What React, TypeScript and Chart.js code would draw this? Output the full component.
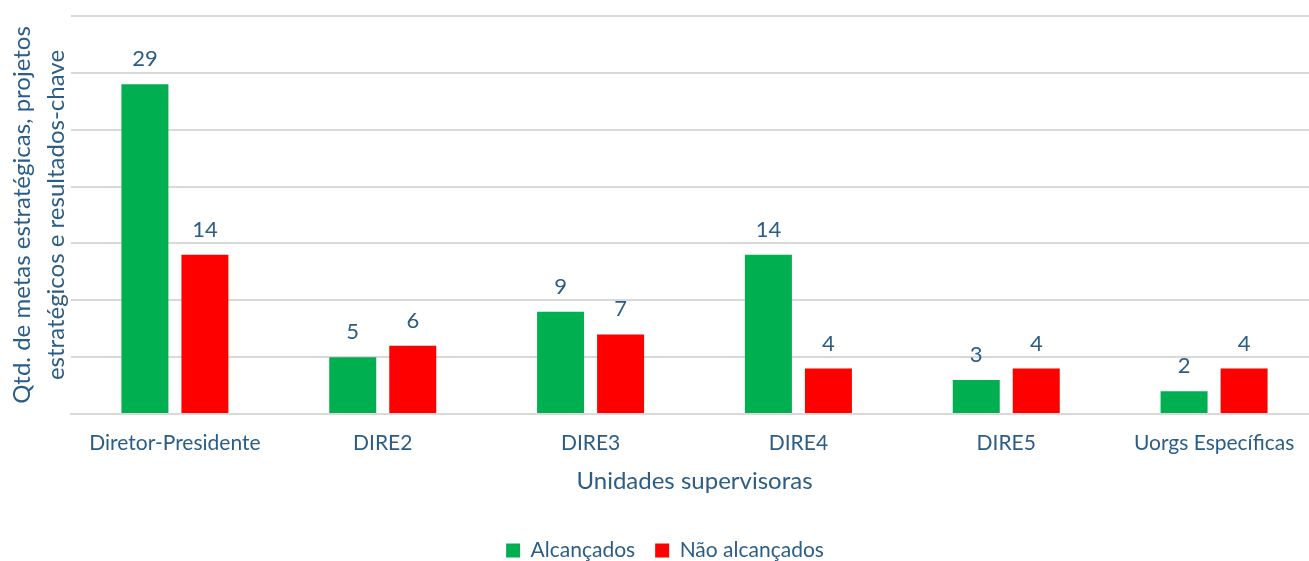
import React, { useEffect, useRef } from "react";
import { Chart, registerables } from "chart.js";

Chart.register(...registerables);

const categories = ["Diretor-Presidente", "DIRE2", "DIRE3", "DIRE4", "DIRE5", "Uorgs Específicas"];
const alcancados = [29, 5, 9, 14, 3, 2];
const naoAlcancados = [14, 6, 7, 4, 4, 4];
const seriesNames = ["Alcançados", "Não alcançados"];
const yTitleLines = ["Qtd. de metas estratégicas, projetos", "estratégicos e resultados-chave"];
const xTitle = "Unidades supervisoras";

const TEXT = "#2B5D87";
const FONT = "Lato, 'Open Sans', sans-serif";

const dataLabels = {
  id: "dataLabels",
  afterDatasetsDraw(chart: any) {
    const ctx = chart.ctx;
    ctx.save();
    ctx.font = `22px ${FONT}`;
    ctx.fillStyle = TEXT;
    ctx.textAlign = "center";
    ctx.textBaseline = "middle";
    chart.data.datasets.forEach((ds: any, i: number) => {
      const meta = chart.getDatasetMeta(i);
      meta.data.forEach((bar: any, j: number) => {
        ctx.fillText(String(ds.data[j]), bar.x, bar.y - 25);
      });
    });
    ctx.restore();
  },
};

const yTitle = {
  id: "yTitle",
  afterDraw(chart: any) {
    const ctx = chart.ctx;
    const area = chart.chartArea;
    const cy = (area.top + area.bottom) / 2;
    ctx.save();
    ctx.font = `24px ${FONT}`;
    ctx.fillStyle = TEXT;
    ctx.textAlign = "center";
    ctx.textBaseline = "middle";
    const xs = [22, 56];
    yTitleLines.forEach((line, i) => {
      ctx.save();
      ctx.translate(xs[i], cy);
      ctx.rotate(-Math.PI / 2);
      ctx.fillText(line, 0, 0);
      ctx.restore();
    });
    ctx.restore();
  },
};

export default function App() {
  const ref = useRef<HTMLCanvasElement>(null);
  useEffect(() => {
    const chart = new Chart(ref.current!, {
      type: "bar",
      data: {
        labels: categories,
        datasets: [
          { label: seriesNames[0], data: alcancados, backgroundColor: "#00B050" },
          { label: seriesNames[1], data: naoAlcancados, backgroundColor: "#FF0000" },
        ],
      },
      options: {
        animation: false,
        responsive: false,
        maintainAspectRatio: false,
        layout: { padding: { left: 12, top: 16, right: 0, bottom: -10 } },
        datasets: { bar: { categoryPercentage: 0.5775, barPercentage: 0.783 } },
        plugins: {
          legend: {
            position: "bottom",
            labels: {
              font: { family: FONT, size: 21 },
              color: TEXT,
              boxWidth: 14,
              boxHeight: 14,
              padding: 20,
            },
          },
          tooltip: { enabled: false },
        },
        scales: {
          x: {
            grid: { display: false, drawTicks: false },
            border: { color: "#D9D9D9", width: 2 },
            ticks: { font: { family: FONT, size: 21 }, color: TEXT, padding: 17 },
            title: {
              display: true,
              text: xTitle,
              font: { family: FONT, size: 24 },
              color: TEXT,
              padding: { top: -6, bottom: 24 },
            },
          },
          y: {
            min: 0,
            max: 35,
            afterFit(scale: any) {
              scale.width = 59;
            },
            ticks: { display: false, stepSize: 5 },
            grid: { color: "#D9D9D9", lineWidth: 2, drawTicks: false },
            border: { display: false },
          },
        },
      },
      plugins: [dataLabels, yTitle],
    });
    return () => chart.destroy();
  }, []);
  return (
    <div style={{ position: "fixed", left: 0, top: 0, width: 1309, height: 561, background: "#fff", overflow: "hidden" }}>
      <canvas ref={ref} width={1318} height={561} />
    </div>
  );
}
